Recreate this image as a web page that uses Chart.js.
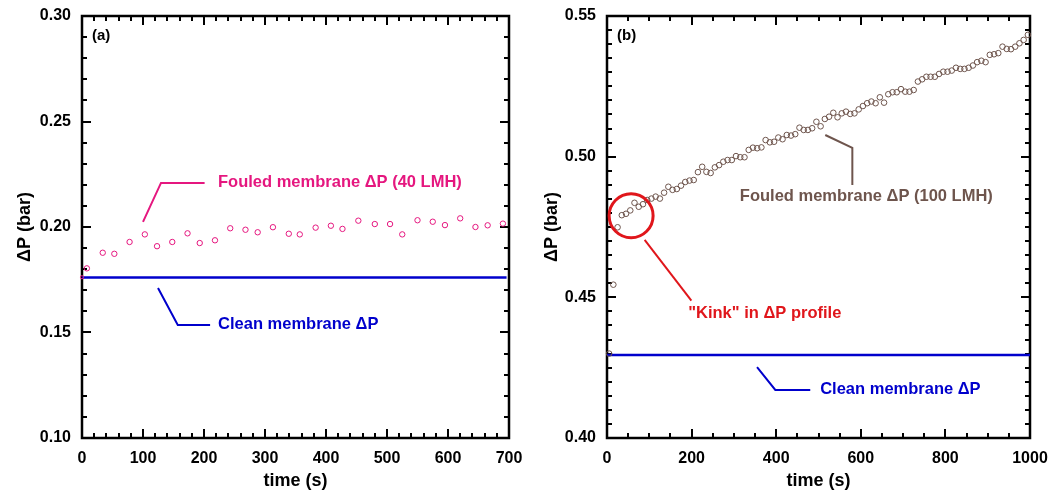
<!DOCTYPE html>
<html><head><meta charset="utf-8">
<script src="https://cdn.jsdelivr.net/npm/chart.js@4/dist/chart.umd.min.js"></script>
<style>
html,body{margin:0;padding:0;background:#fff;width:1054px;height:493px;overflow:hidden}
canvas{position:absolute;top:0}
#ca{left:0}
#cb{left:527px}
</style></head><body>
<canvas id="ca" width="527" height="493"></canvas>
<canvas id="cb" width="527" height="493"></canvas>
<script>
// ---------- Panel (a) data ----------
const timeA = [0,8,34,53,78,103,123,148,173,193,218,243,268,288,313,339,357,383,408,427,453,480,505,525,550,575,595,620,645,665,690];
const fouledA = [0.1762,0.1804,0.1878,0.1873,0.1929,0.1965,0.1909,0.1929,0.1970,0.1924,0.1937,0.1994,0.1987,0.1975,0.1999,0.1968,0.1965,0.1997,0.2006,0.1991,0.2030,0.2014,0.2014,0.1965,0.2032,0.2025,0.2009,0.2041,0.2000,0.2008,0.2016];
const cleanA = 0.1761;
const cleanSpanA = [0, 696];
const xTicksA = [0,100,200,300,400,500,600,700];
const yTicksA = [0.10,0.15,0.20,0.25,0.30];

// ---------- Panel (b) data ----------
const timeB = [5,15,25,35,45,55,65,75,85,95,105,115,125,135,145,155,165,175,185,195,
 205,215,225,235,245,255,265,275,285,295,305,315,325,335,345,355,365,375,385,395,
 405,415,425,435,445,455,465,475,485,495,505,515,525,535,545,555,565,575,585,595,
 605,615,625,635,645,655,665,675,685,695,705,715,725,735,745,755,765,775,785,795,
 805,815,825,835,845,855,865,875,885,895,905,915,925,935,945,955,965,975,985,995];
const fouledB = [0.4300,0.4545,0.4749,0.4792,0.4797,0.4809,0.4836,0.4822,0.4831,0.4846,
 0.4851,0.4858,0.4851,0.4872,0.4893,0.4882,0.4885,0.4897,0.4910,0.4915,
 0.4917,0.4945,0.4964,0.4946,0.4942,0.4962,0.4970,0.4982,0.4988,0.4988,
 0.5002,0.4998,0.4998,0.5024,0.5032,0.5030,0.5033,0.5059,0.5051,0.5053,
 0.5068,0.5062,0.5077,0.5075,0.5080,0.5103,0.5095,0.5095,0.5101,0.5124,
 0.5108,0.5134,0.5142,0.5156,0.5140,0.5154,0.5160,0.5152,0.5154,0.5168,
 0.5180,0.5190,0.5196,0.5190,0.5211,0.5192,0.5222,0.5229,0.5229,0.5240,
 0.5231,0.5231,0.5237,0.5267,0.5275,0.5284,0.5284,0.5284,0.5294,0.5302,
 0.5302,0.5306,0.5316,0.5312,0.5312,0.5316,0.5324,0.5336,0.5341,0.5336,
 0.5362,0.5364,0.5368,0.5391,0.5383,0.5382,0.5391,0.5403,0.5415,0.5433];
const cleanB = 0.4295;
const cleanSpanB = [0, 1000];
const xTicksB = [0,200,400,600,800,1000];
const yTicksB = [0.40,0.45,0.50,0.55];

// ---------- annotation text ----------
const labelsA = [
  {text:'Fouled membrane \u0394P (40 LMH)', x:223, y:0.2209, color:'#e5177f',
   path:[[100,0.2024],[129.5,0.2209],[201,0.2209]]},
  {text:'Clean membrane \u0394P', x:223, y:0.1536, color:'#0000cc',
   path:[[124.6,0.1711],[157,0.1536],[210,0.1536]]}
];
const labelsB = [
  {text:'Fouled membrane \u0394P (100 LMH)', x:314, y:0.4857, color:'#6e554d',
   path:[[516,0.5077],[580,0.5031],[580,0.4899]]},
  {text:'"Kink" in \u0394P profile', x:192, y:0.4444, color:'#e0161b',
   path:[[89,0.4704],[199.5,0.4488]], circle:{x:57, y:0.479, r:22}},
  {text:'Clean membrane \u0394P', x:504, y:0.4171, color:'#0000cc',
   path:[[354.7,0.4252],[397.9,0.4171],[480.5,0.4171]]}
];

const FONT = "'Liberation Sans', Arial, Helvetica, sans-serif";

const decorPlugin = {
  id:'decor',
  beforeDatasetsDraw(chart){
    const o = chart.options.plugins.decor;
    const {ctx, chartArea:a, scales:{x,y}} = chart;
    ctx.save();
    ctx.strokeStyle='#000'; ctx.lineWidth=2;
    const tickSet = (scale, step, majors, horiz) => {
      const n = Math.round((scale.max-scale.min)/step);
      for (let i=0;i<=n;i++){
        const v = scale.min + i*step;
        const isMajor = majors.some(m=>Math.abs(m-v)<step/10);
        const len = isMajor?9:5;
        const p = Math.round(scale.getPixelForValue(v));
        ctx.beginPath();
        if (horiz){ ctx.moveTo(p,a.bottom); ctx.lineTo(p,a.bottom-len); ctx.moveTo(p,a.top); ctx.lineTo(p,a.top+len); }
        else { ctx.moveTo(a.left,p); ctx.lineTo(a.left+len,p); ctx.moveTo(a.right,p); ctx.lineTo(a.right-len,p); }
        ctx.stroke();
      }
    };
    tickSet(x, o.xMinor, o.xMajors, true);
    tickSet(y, o.yMinor, o.yMajors, false);
    ctx.lineWidth=2.5;
    ctx.strokeRect(a.left,a.top,a.right-a.left,a.bottom-a.top);
    ctx.restore();
  },
  afterDraw(chart){
    const o = chart.options.plugins.decor;
    const {ctx, chartArea:a, scales:{x,y}} = chart;
    ctx.save();
    ctx.fillStyle='#000'; ctx.font='bold 15px '+FONT; ctx.textBaseline='middle'; ctx.textAlign='left';
    ctx.fillText(o.panel, a.left+10, a.top+20);
    ctx.font='bold 18px '+FONT; ctx.textAlign='center';
    ctx.fillText('time (s)', (a.left+a.right)/2, 481);
    ctx.save();
    ctx.translate(o.yTitleX, (a.top+a.bottom)/2); ctx.rotate(-Math.PI/2);
    ctx.fillText('\u0394P (bar)', 0, 0);
    ctx.restore();
    ctx.font='bold 16.5px '+FONT; ctx.textAlign='left';
    o.labels.forEach(l=>{
      ctx.strokeStyle=l.color; ctx.fillStyle=l.color; ctx.lineWidth=2;
      ctx.beginPath();
      l.path.forEach((pt,i)=>{
        const px=x.getPixelForValue(pt[0]), py=y.getPixelForValue(pt[1]);
        if(i===0) ctx.moveTo(px,py); else ctx.lineTo(px,py);
      });
      ctx.stroke();
      if (l.circle){
        ctx.lineWidth=3;
        ctx.beginPath();
        ctx.arc(x.getPixelForValue(l.circle.x), y.getPixelForValue(l.circle.y), l.circle.r, 0, Math.PI*2);
        ctx.stroke();
      }
      ctx.fillText(l.text, x.getPixelForValue(l.x), y.getPixelForValue(l.y));
    });
    ctx.restore();
  }
};

const zeroPad = s => { s.paddingTop = 0; s.paddingBottom = 0; s.paddingLeft = 0; s.paddingRight = 0; };

function makeChart(id, cfg){
  return new Chart(document.getElementById(id), {
    type:'scatter',
    data:{datasets:[
      {data: cfg.t.map((t,i)=>({x:t,y:cfg.v[i]})), showLine:false,
       pointStyle:'circle', backgroundColor:'rgba(0,0,0,0)', borderColor:cfg.color,
       pointBorderWidth:1, pointRadius: cfg.radius, clip:false},
      {type:'line', data:[{x:cfg.cleanSpan[0],y:cfg.clean},{x:cfg.cleanSpan[1],y:cfg.clean}],
       borderColor:'#0000cc', borderWidth:2.5, pointRadius:0, clip:false}
    ]},
    options:{
      responsive:false, animation:false, devicePixelRatio:1,
      layout:{autoPadding:false, padding:{top:16, right:cfg.padRight, left:0, bottom:0}},
      plugins:{legend:{display:false}, tooltip:{enabled:false},
        decor:{panel:cfg.panel, xMinor:cfg.xMinor, yMinor:cfg.yMinor, xMajors:cfg.xTicks, yMajors:cfg.yTicks,
               labels:cfg.labels, yTitleX:cfg.yTitleX}},
      scales:{
        x:{type:'linear', min:cfg.xTicks[0], max:cfg.xTicks[cfg.xTicks.length-1],
           grid:{display:false, drawTicks:false}, border:{display:false},
           afterBuildTicks:s=>{ s.ticks = cfg.xTicks.map(v=>({value:v})); },
           afterFit:s=>{ s.height = 55; zeroPad(s); },
           ticks:{color:'#000', padding:11, maxRotation:0, autoSkip:false,
                  font:{family:FONT, weight:'bold', size:16}, callback:v=>String(v)}},
        y:{type:'linear', min:cfg.yTicks[0], max:cfg.yTicks[cfg.yTicks.length-1],
           grid:{display:false, drawTicks:false}, border:{display:false},
           afterBuildTicks:s=>{ s.ticks = cfg.yTicks.map(v=>({value:v})); },
           afterFit:s=>{ s.width = cfg.yWidth; zeroPad(s); },
           ticks:{color:'#000', padding:11, autoSkip:false,
                  font:{family:FONT, weight:'bold', size:16}, callback:v=>Number(v).toFixed(2)}}
      }
    },
    plugins:[decorPlugin]
  });
}

makeChart('ca', {t:timeA, v:fouledA, color:'#e5177f', radius:(c)=>c.dataIndex===0?1.6:2.7,
  clean:cleanA, cleanSpan:cleanSpanA, xTicks:xTicksA, yTicks:yTicksA, xMinor:20, yMinor:0.01,
  padRight:18, yWidth:82, panel:'(a)', labels:labelsA, yTitleX:25});
makeChart('cb', {t:timeB, v:fouledB, color:'#6e554d', radius:2.8,
  clean:cleanB, cleanSpan:cleanSpanB, xTicks:xTicksB, yTicks:yTicksB, xMinor:50, yMinor:0.005,
  padRight:24, yWidth:80, panel:'(b)', labels:labelsB, yTitleX:25});
</script>
</body></html>
